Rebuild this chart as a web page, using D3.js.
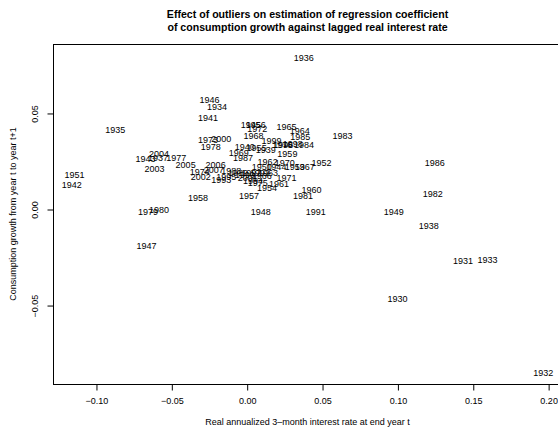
<!DOCTYPE html>
<html lang="en">
<head>
<meta charset="UTF-8">
<style>
  body { margin: 0; background: #fff; }
  svg { font-family: "Liberation Sans", Arial, Helvetica, sans-serif; }
</style>
<script src="https://d3js.org/d3.v7.min.js"></script>
</head>
<body>
<svg id="chart" width="558" height="427"></svg>
<script>
// year labels, lagged real rate (x), consumption growth t -> t+1 (y)
const years = [
  1930, 1931, 1932, 1933, 1934, 1935, 1936, 1937, 1938, 1939,
  1940, 1941, 1942, 1943, 1944, 1945, 1946, 1947, 1948, 1949,
  1950, 1951, 1952, 1953, 1954, 1955, 1956, 1957, 1958, 1959,
  1960, 1961, 1962, 1963, 1964, 1965, 1966, 1967, 1968, 1969,
  1970, 1971, 1972, 1973, 1974, 1975, 1976, 1977, 1978, 1979,
  1980, 1981, 1982, 1983, 1984, 1985, 1986, 1987, 1988, 1989,
  1990, 1991, 1992, 1993, 1994, 1995, 1996, 1997, 1998, 1999,
  2000, 2001, 2002, 2003, 2004, 2005, 2006, 2007
];
const realRate = [
  0.1001, 0.1436, 0.1967, 0.1598, -0.0197, -0.0872, 0.0378, -0.0589, 0.1208, 0.0126,
  -0.0013, -0.0257, -0.1160, -0.0671, 0.0197, 0.0027, -0.0246, -0.0664, 0.0093, 0.0976,
  0.0100, -0.1142, 0.0496, 0.0319, 0.0135, 0.0066, 0.0060, 0.0015, -0.0323, 0.0270,
  0.0430, 0.0214, 0.0139, 0.0141, 0.0352, 0.0264, 0.0100, 0.0385, 0.0046, -0.0053,
  0.0252, 0.0264, 0.0070, -0.0257, -0.0312, 0.0073, 0.0236, -0.0467, -0.0239, -0.0655,
  -0.0582, 0.0374, 0.1235, 0.0635, 0.0380, 0.0355, 0.1248, -0.0025, -0.0102, -0.0058,
  -0.0013, 0.0458, 0.0086, -0.0168, 0.0042, -0.0135, 0.0242, 0.0031, 0.0305, 0.0164,
  -0.0168, 0.0007, -0.0305, -0.0611, -0.0582, -0.0405, -0.0206, -0.0219
];
const consGrowth = [
  -0.0469, -0.0269, -0.0851, -0.0266, 0.0533, 0.0413, 0.0786, 0.0267, -0.0089, 0.0307,
  0.0321, 0.0474, 0.0127, 0.0260, 0.0217, 0.0438, 0.0568, -0.0193, -0.0016, -0.0016,
  0.0219, 0.0177, 0.0241, 0.0217, 0.0109, 0.0319, 0.0438, 0.0071, 0.0056, 0.0285,
  0.0099, 0.0130, 0.0245, 0.0189, 0.0405, 0.0430, 0.0172, 0.0220, 0.0380, 0.0290,
  0.0241, 0.0163, 0.0417, 0.0361, 0.0194, 0.0137, 0.0336, 0.0264, 0.0324, -0.0014,
  -0.0005, 0.0069, 0.0078, 0.0382, 0.0333, 0.0377, 0.0240, 0.0268, 0.0198, 0.0186,
  0.0177, -0.0016, 0.0189, 0.0151, 0.0146, 0.0168, 0.0336, 0.0186, 0.0341, 0.0354,
  0.0366, 0.0161, 0.0165, 0.0210, 0.0285, 0.0229, 0.0231, 0.0203
];

const xTicks = [-0.10, -0.05, 0.00, 0.05, 0.10, 0.15, 0.20];
const yTicks = [-0.05, 0.00, 0.05];

const titleLines = [
  "Effect of outliers on estimation of regression coefficient",
  "of consumption growth against lagged real interest rate"
];
const xTitle = "Real annualized 3\u2013month interest rate at end year t";
const yTitle = "Consumption growth from year t to year t+1";

const svg = d3.select("#chart");

// plot region (right edge runs past the picture, as in the original)
const plotL = 53, plotR = 562, plotT = 44, plotB = 384;

const x = d3.scaleLinear().domain([-0.1285, 0.2092]).range([plotL, plotR]);
const y = d3.scaleLinear().domain([-0.0911, 0.0859]).range([plotB, plotT]);

const fmt = v => d3.format(".2f")(v).replace("-", "\u2212");

// box
svg.append("rect")
  .attr("x", plotL + 0.5).attr("y", plotT + 0.5)
  .attr("width", plotR - plotL).attr("height", plotB - plotT)
  .attr("fill", "none").attr("stroke", "#000").attr("stroke-width", 1);

// x axis
const xAxis = svg.append("g")
  .attr("transform", `translate(0.5,${plotB + 0.5})`)
  .call(d3.axisBottom(x).tickValues(xTicks).tickSize(6).tickPadding(7).tickFormat(fmt));
xAxis.select(".domain").remove();
xAxis.append("line")
  .attr("x1", x(xTicks[0])).attr("x2", x(xTicks[xTicks.length - 1]))
  .attr("stroke", "#000");
xAxis.selectAll("text").attr("font-size", 9).attr("fill", "#000")
  .attr("font-family", "Liberation Sans, Arial, sans-serif");

// y axis, labels turned like R
const yAxis = svg.append("g")
  .attr("transform", `translate(${plotL + 0.5},0.5)`)
  .call(d3.axisLeft(y).tickValues(yTicks).tickSize(6).tickFormat(fmt));
yAxis.select(".domain").remove();
yAxis.append("line")
  .attr("y1", y(yTicks[0])).attr("y2", y(yTicks[yTicks.length - 1]))
  .attr("stroke", "#000");
yAxis.selectAll(".tick text")
  .attr("x", null).attr("dy", null)
  .attr("transform", "translate(-16,0) rotate(-90)")
  .attr("text-anchor", "middle")
  .attr("font-size", 9).attr("fill", "#000")
  .attr("font-family", "Liberation Sans, Arial, sans-serif");

// year labels as the points
svg.append("g")
  .selectAll("text")
  .data(years.map((yr, i) => ({ yr, rx: realRate[i], cg: consGrowth[i] })))
  .join("text")
  .attr("x", d => x(d.rx))
  .attr("y", d => y(d.cg))
  .attr("dy", "0.35em")
  .attr("text-anchor", "middle")
  .attr("font-size", 9)
  .attr("fill", "#000")
  .text(d => d.yr);

// titles
svg.append("g").selectAll("text")
  .data(titleLines)
  .join("text")
  .attr("x", (plotL + plotR) / 2)
  .attr("y", (d, i) => 18 + i * 13)
  .attr("text-anchor", "middle")
  .attr("font-size", 10.6)
  .attr("font-weight", "bold")
  .text(d => d);

svg.append("text")
  .attr("x", (plotL + plotR) / 2)
  .attr("y", 425)
  .attr("text-anchor", "middle")
  .attr("font-size", 9)
  .text(xTitle);

svg.append("text")
  .attr("transform", `translate(16,${(plotT + plotB) / 2}) rotate(-90)`)
  .attr("text-anchor", "middle")
  .attr("font-size", 9)
  .text(yTitle);
</script>
</body>
</html>
